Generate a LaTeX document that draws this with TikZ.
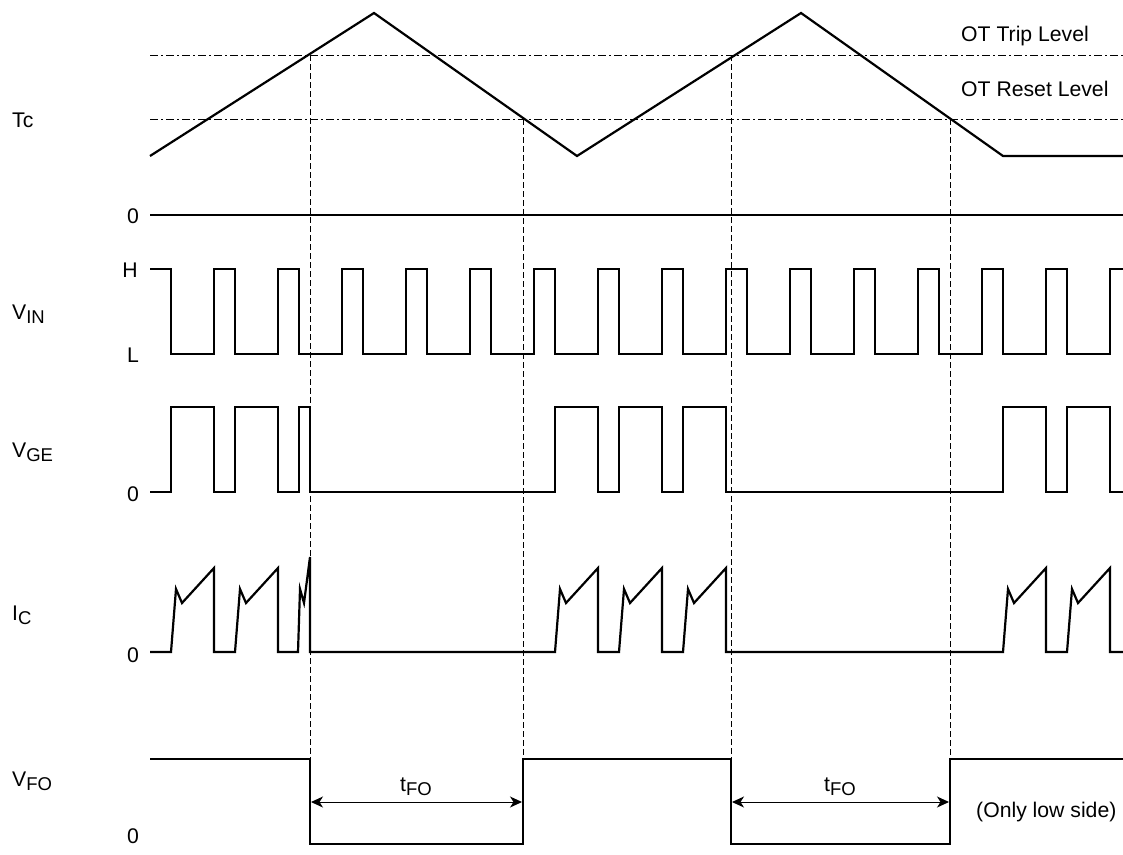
\documentclass[tikz,border=0pt]{standalone}
\usepackage{fontspec}
\setmainfont{Liberation Sans}
\usetikzlibrary{arrows.meta}
\newcommand\sbs[1]{\raisebox{-4.5pt}{\fontsize{18.5}{18.5}\selectfont #1}}
\begin{document}
\begin{tikzpicture}[x=1pt,y=-1pt,
  wave/.style={line width=2.2pt, line join=miter, line cap=butt},
  lvl/.style={line width=1pt, dash pattern=on 8pt off 3pt on 2pt off 3pt},
  guide/.style={line width=1pt, dash pattern=on 6pt off 3pt},
  dim/.style={line width=1pt, <->, >={Stealth[length=12pt,width=11pt,inset=3.5pt]}},
  lbl/.style={font=\fontsize{21.2}{25}\selectfont, inner sep=0pt}]
\useasboundingbox (0,0) rectangle (1123,854);

% level lines
\draw[lvl] (150,55) -- (1123,55);
\draw[lvl] (150,119) -- (1123,119);

% guide lines
\coordinate (g1t) at (310,55);  \coordinate (g1b) at (310,759);
\coordinate (g2t) at (523,119); \coordinate (g2b) at (523,759);
\coordinate (g3t) at (731,55);  \coordinate (g3b) at (731,759);
\coordinate (g4t) at (950,119); \coordinate (g4b) at (950,759);
\draw[guide] (g1t) -- (g1b);
\draw[guide] (g2t) -- (g2b);
\draw[guide] (g3t) -- (g3b);
\draw[guide] (g4t) -- (g4b);

% Tc
\draw[wave] (150,156) -- (374,13) -- (577,156) -- (801,13) -- (1003,156) -- (1123,156);
\draw[wave] (150,215) -- (1123,215);

% VIN
\draw[wave] (150,269) foreach \k in {0,...,14} {
  -- ({171+64*\k},269) -- ({171+64*\k},354) -- ({214+64*\k},354) -- ({214+64*\k},269)
} -- (1123,269);

% VGE
\draw[wave] (150,492) -- (171,492) -- (171,407) -- (214,407) -- (214,492)
  -- (235,492) -- (235,407) -- (278,407) -- (278,492)
  -- (299,492) -- (299,407) -- (310,407) -- (310,492)
  -- (555,492) -- (555,407) -- (598,407) -- (598,492)
  -- (619,492) -- (619,407) -- (662,407) -- (662,492)
  -- (683,492) -- (683,407) -- (726,407) -- (726,492)
  -- (1003,492) -- (1003,407) -- (1046,407) -- (1046,492)
  -- (1067,492) -- (1067,407) -- (1110,407) -- (1110,492) -- (1123,492);

% IC
\draw[wave] (150,652) -- (171,652) -- (176,589) -- (182,603) -- (214,568) -- (214,652)
  -- (235,652) -- (240,589) -- (246,603) -- (278,568) -- (278,652)
  -- (298,652) -- (300,589) -- (304,603) -- (310,557) -- (310,652)
  -- (555,652) -- (560,589) -- (566,603) -- (598,568) -- (598,652)
  -- (619,652) -- (624,589) -- (630,603) -- (662,568) -- (662,652)
  -- (683,652) -- (688,589) -- (694,603) -- (726,568) -- (726,652)
  -- (1003,652) -- (1008,589) -- (1014,603) -- (1046,568) -- (1046,652)
  -- (1067,652) -- (1072,589) -- (1078,603) -- (1110,568) -- (1110,652) -- (1123,652);

% VFO
\draw[wave] (150,759) -- (310,759) -- (310,844) -- (523,844) -- (523,759)
  -- (731,759) -- (731,844) -- (950,844) -- (950,759) -- (1123,759);

% tFO dimensions
\coordinate (a1l) at (311,802); \coordinate (a1r) at (522,802);
\coordinate (a2l) at (732,802); \coordinate (a2r) at (949,802);
\draw[dim] (a1l) -- (a1r);
\draw[dim] (a2l) -- (a2r);
\node[lbl, anchor=base] (tfo1) at (416,791) {t\sbs{FO}};
\node[lbl, anchor=base] (tfo2) at (840,791) {t\sbs{FO}};
\node[lbl, anchor=base west] (only) at (976,817) {(Only low side)};

% right labels
\node[lbl, anchor=base west] (trip) at (961,41) {OT Trip Level};
\node[lbl, anchor=base west] (reset) at (961,96) {OT Reset Level};

% left labels
\node[lbl, anchor=base west] (lTc) at (12,127) {Tc};
\node[lbl, anchor=base west] (lVin) at (12,319) {V\sbs{IN}};
\node[lbl, anchor=base west] (lVge) at (12,457) {V\sbs{GE}};
\node[lbl, anchor=base west] (lIc) at (12,620) {I\sbs{C}};
\node[lbl, anchor=base west] (lVfo) at (12,786) {V\sbs{FO}};

\node[lbl, anchor=base east] (z1) at (139,223) {0};
\node[lbl, anchor=base east] (hH) at (138,277) {H};
\node[lbl, anchor=base east] (lL) at (139,362) {L};
\node[lbl, anchor=base east] (z2) at (139,501) {0};
\node[lbl, anchor=base east] (z3) at (139,662) {0};
\node[lbl, anchor=base east] (z4) at (139,843) {0};
\end{tikzpicture}
\end{document}
